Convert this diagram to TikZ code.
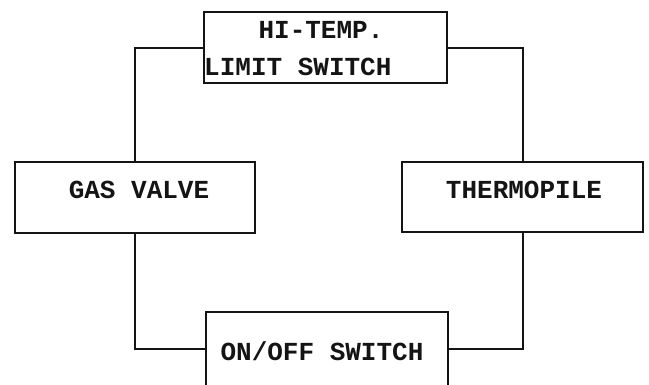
\documentclass[tikz,border=0pt]{standalone}
\usepackage{fontspec}
\setmonofont{Liberation Mono}
\definecolor{ink}{RGB}{20,20,20}

\begin{document}
\begin{tikzpicture}[x=1pt, y=-1pt, font=\ttfamily\bfseries\fontsize{26}{30}\selectfont,
  box/.style={draw=ink, line width=2pt, inner sep=0pt},
  wire/.style={draw=ink, line width=2pt},
  lbl/.style={text=ink, inner sep=0pt, anchor=base}]
\useasboundingbox (0,0) rectangle (649,384);
\clip (0,0) rectangle (649,384);
% boxes
\node[box, minimum width=243pt, minimum height=71pt] (hitemp) at (325.5,47.5) {};
\node[box, minimum width=240pt, minimum height=71pt] (gas) at (135,197.5) {};
\node[box, minimum width=241pt, minimum height=70pt] (thermo) at (522.5,197) {};
\node[box, minimum width=242pt, minimum height=74pt] (onoff) at (327,349) {};
% labels
\node[lbl] (hitempA) at (321,38) {HI-TEMP.};
\node[lbl, anchor=base west] (hitempB) at (204,75) {LIMIT SWITCH};
\node[lbl] (gasA) at (139,198) {GAS VALVE};
\node[lbl] (thermoA) at (524,198) {THERMOPILE};
\node[lbl] (onoffA) at (322,360) {ON/OFF SWITCH};
% wires
\draw[wire] (hitemp.west) -| (gas.north);
\draw[wire] (hitemp.east) -| (thermo.north);
\draw[wire] (gas.south) |- (onoff.west);
\draw[wire] (thermo.south) |- (onoff.east);
\end{tikzpicture}
\end{document}
